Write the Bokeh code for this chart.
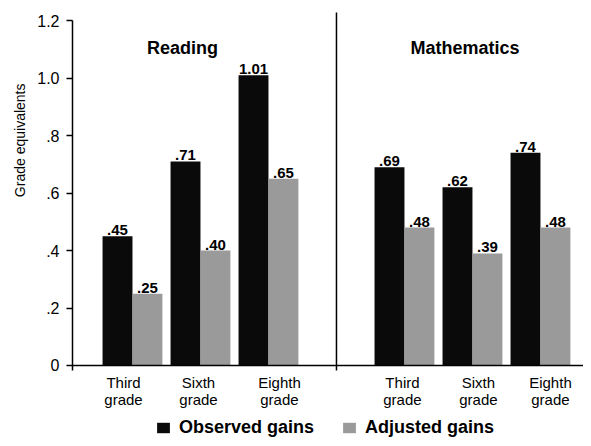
from bokeh.plotting import figure
from bokeh.models import (ColumnDataSource, FixedTicker, Span, Legend,
                          LegendItem, Range1d, Title)
from bokeh.transform import dodge
from bokeh.core.properties import value
from bokeh.embed import file_html
from bokeh.resources import INLINE

# ---------------- data ----------------
subjects = ["Reading", "Mathematics"]
grades = ["Third\ngrade", "Sixth\ngrade", "Eighth\ngrade"]
observed = [0.45, 0.71, 1.01, 0.69, 0.62, 0.74]
adjusted = [0.25, 0.40, 0.65, 0.48, 0.39, 0.48]
series = ["Observed gains", "Adjusted gains"]
y_ticks = [0, 0.2, 0.4, 0.6, 0.8, 1.0, 1.2]
y_tick_labels = ["0", ".2", ".4", ".6", ".8", "1.0", "1.2"]
y_title = "Grade equivalents"


def fmt(v):
    s = f"{v:.2f}"
    return s[1:] if s.startswith("0") else s


# group positions: 3 grades per subject with a gap of one slot between subjects
xs = [g * 4 + i for g in range(len(subjects)) for i in range(len(grades))]
cats = grades * len(subjects)
# small horizontal nudges (px) of the category labels, as typeset in the original
cat_nudge = [-9, -2, 11, -2, 6, 10]

src = ColumnDataSource(dict(
    x=xs, cat=cats, obs=observed, adj=adjusted, nudge=cat_nudge,
    obs_lbl=[fmt(v) for v in observed], adj_lbl=[fmt(v) for v in adjusted],
))

FONT = "Liberation Sans"
BAR_W = 0.44
OFF = BAR_W / 2

p = figure(width=583, height=438, output_backend="svg", toolbar_location=None,
           x_range=Range1d(-0.882, 6.633), y_range=Range1d(-0.254, 1.235),
           x_axis_location=None,
           min_border_left=72, min_border_right=0, min_border_top=10,
           min_border_bottom=0)
p.grid.visible = False
p.outline_line_color = None
p.background_fill_color = "white"
p.border_fill_color = "white"

# y axis
ya = p.yaxis[0]
ya.ticker = FixedTicker(ticks=y_ticks)
ya.major_label_overrides = dict(zip(y_ticks, y_tick_labels))
ya.bounds = (-0.0174, 1.2)
ya.axis_line_width = 1.5
ya.axis_line_color = "black"
ya.major_tick_line_width = 1.5
ya.major_tick_line_color = "black"
ya.major_tick_out = 6
ya.major_tick_in = 0
ya.minor_tick_line_color = None
ya.major_label_standoff = 7
ya.major_label_text_font = FONT
ya.major_label_text_font_size = "16px"
ya.major_label_text_color = "black"

# y title, placed in the upper part of the axis as in the original
p.add_layout(Title(text=y_title, align="right", offset=73, standoff=14,
                   text_font=FONT, text_font_size="14px",
                   text_font_style="normal", text_color="black"), "left")

# bars
r_obs = p.vbar(x=dodge("x", -OFF, range=p.x_range), top="obs", width=BAR_W,
               source=src, fill_color="#0a0a0a", line_color=None)
r_adj = p.vbar(x=dodge("x", OFF, range=p.x_range), top="adj", width=BAR_W,
               source=src, fill_color="#9a9a9a", line_color=None)

# x axis line at zero
p.add_layout(Span(location=0, dimension="width", line_color="black",
                  line_width=1.5))

# divider between subjects
mid = (xs[2] + xs[3]) / 2
p.segment(x0=[mid], y0=[-0.0174], x1=[mid], y1=[1.228], line_color="black",
          line_width=1.5)

# value labels
for col, lbl, off in (("obs", "obs_lbl", -OFF), ("adj", "adj_lbl", OFF)):
    p.text(x=dodge("x", off, range=p.x_range), y=col, text=lbl, source=src,
           text_align="center", text_baseline="alphabetic", y_offset=-6,
           text_font=value(FONT), text_font_size="15px",
           text_font_style="bold", text_color="black")

# category labels
p.text(x="x", y=0, text="cat", source=src, x_offset="nudge",
       text_align="center", text_baseline="top", y_offset=9,
       text_font=value(FONT), text_font_size="15px", text_line_height=1.0,
       text_color="black")

# subject titles
p.text(x=[0.735, 4.89], y=[1.103, 1.103], text=subjects, text_align="center",
       text_baseline="alphabetic", text_font=value(FONT),
       text_font_size="18px", text_font_style="bold", text_color="black")

legend = Legend(items=[LegendItem(label=series[0], renderers=[r_obs]),
                       LegendItem(label=series[1], renderers=[r_adj])],
                orientation="horizontal", location=(83, 0),
                glyph_width=16, glyph_height=13, label_standoff=8, spacing=27,
                padding=0, margin=0, border_line_color=None,
                background_fill_alpha=0, label_text_font=FONT,
                label_text_font_size="18px", label_text_font_style="bold",
                label_text_color="black", label_height=13)
p.add_layout(legend)

open("out.html", "w").write(file_html(p, INLINE))
